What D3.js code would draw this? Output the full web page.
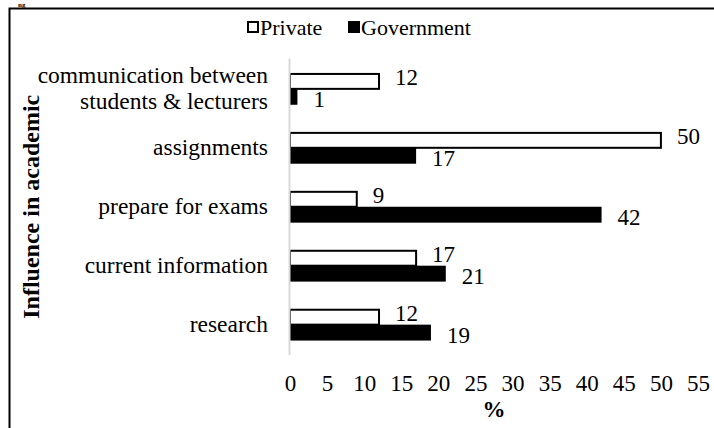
<!DOCTYPE html>
<html>
<head>
<meta charset="utf-8">
<script src="https://cdn.jsdelivr.net/npm/d3@7"></script>
<style>
  body { margin: 0; background: #fff; }
</style>
</head>
<body>
<svg id="chart" width="714" height="428"></svg>
<script>
// Survey results: influence of use in academic activities (%)
const categories = [
  "communication between\nstudents & lecturers",
  "assignments",
  "prepare for exams",
  "current information",
  "research"
];
const seriesNames = ["Private", "Government"];
const privateValues = [12, 50, 9, 17, 12];
const governmentValues = [1, 17, 42, 21, 19];
const xTicks = [0, 5, 10, 15, 20, 25, 30, 35, 40, 45, 50, 55];

const FS = 23;
const serif = sel => sel
  .attr("font-family", "Liberation Serif")
  .style("font-family", '"Liberation Serif"')
  .attr("fill", "#000");

const svg = d3.select("#chart");
const W = 714, H = 428;
const margin = { left: 290, right: 16, top: 58.5, bottom: 73 };

// Outer frame (extends past the visible area on right and bottom)
svg.append("rect")
  .attr("x", 9.5).attr("y", 8.5)
  .attr("width", W + 20).attr("height", H + 20)
  .attr("fill", "none").attr("stroke", "#000").attr("stroke-width", 2);

// Caption fragment above the frame
svg.append("text")
  .attr("x", 18).attr("y", 7)
  .attr("font-size", 7).attr("font-weight", "bold")
  .call(serif)
  .text("ng");

const x = d3.scaleLinear().domain([0, 55]).range([margin.left, W - margin.right]);
const y = d3.scaleBand().domain(categories)
  .range([margin.top, H - margin.bottom])
  .paddingInner(0.46).paddingOuter(0.245);
const ySub = d3.scaleBand().domain(seriesNames).range([0, y.bandwidth()]);

const rows = categories.map((c, i) => ({ cat: c, Private: privateValues[i], Government: governmentValues[i] }));

// Bars
const groups = svg.append("g").selectAll("g").data(rows).join("g")
  .attr("transform", d => `translate(0,${y(d.cat)})`);

groups.append("rect")
  .attr("x", x(0)).attr("y", ySub("Private") + 1)
  .attr("width", d => x(d.Private) - x(0)).attr("height", ySub.bandwidth() - 1)
  .attr("fill", "#fff").attr("stroke", "#000").attr("stroke-width", 2);

groups.append("rect")
  .attr("x", x(0)).attr("y", ySub("Government"))
  .attr("width", d => x(d.Government) - x(0)).attr("height", ySub.bandwidth())
  .attr("fill", "#000");

// Value labels
groups.append("text")
  .attr("x", d => x(d.Private) + 16)
  .attr("y", ySub("Private") + ySub.bandwidth() / 2 + 4)
  .attr("font-size", FS).call(serif)
  .text(d => d.Private);

groups.append("text")
  .attr("x", d => x(d.Government) + 16)
  .attr("y", ySub("Government") + ySub.bandwidth() / 2 + 10)
  .attr("font-size", FS).call(serif)
  .text(d => d.Government);

// Vertical category axis line
svg.append("line")
  .attr("x1", x(0) - 0.5).attr("x2", x(0) - 0.5)
  .attr("y1", margin.top).attr("y2", H - margin.bottom)
  .attr("stroke", "#d9d9d9").attr("stroke-width", 2);

// Category labels
const catLabels = svg.append("g").selectAll("text").data(categories).join("text")
  .attr("text-anchor", "end")
  .attr("font-size", 23.5).call(serif)
  .attr("x", 268)
  .attr("y", d => y(d) + y.bandwidth() / 2);
catLabels.each(function(d) {
  const lines = d.split("\n");
  const t = d3.select(this);
  const lh = 26;
  const start = -((lines.length - 1) * lh) / 2 + 7;
  lines.forEach((ln, i) => {
    t.append("tspan").attr("x", 268).attr("dy", i === 0 ? start : lh).text(ln);
  });
});

// X axis tick labels
const xAxis = d3.axisBottom(x).tickValues(xTicks).tickSize(0).tickPadding(20);
const gx = svg.append("g").attr("transform", `translate(0,${H - margin.bottom})`).call(xAxis);
gx.attr("font-family", "Liberation Serif").attr("font-size", FS);
gx.select(".domain").remove();
gx.selectAll("text").attr("font-size", FS).call(serif);

// Axis titles
svg.append("text")
  .attr("x", (x(0) + x(55)) / 2).attr("y", 417)
  .attr("text-anchor", "middle").attr("font-size", FS).attr("font-weight", "bold")
  .call(serif)
  .text("%");

svg.append("text")
  .attr("transform", `translate(39,${(margin.top + H - margin.bottom) / 2}) rotate(-90)`)
  .attr("text-anchor", "middle").attr("font-size", 24).attr("font-weight", "bold")
  .call(serif)
  .text("Influence in academic");

// Legend
const legend = svg.append("g").attr("transform", "translate(247,20)");
legend.append("rect").attr("x", 1).attr("y", 2).attr("width", 10).attr("height", 10)
  .attr("fill", "#fff").attr("stroke", "#000").attr("stroke-width", 2);
legend.append("text").attr("x", 13).attr("y", 15).attr("font-size", 22).call(serif).text(seriesNames[0]);
legend.append("rect").attr("x", 101).attr("y", 1).attr("width", 12).attr("height", 12).attr("fill", "#000");
legend.append("text").attr("x", 114).attr("y", 15).attr("font-size", 22).call(serif).text(seriesNames[1]);
</script>
</body>
</html>
